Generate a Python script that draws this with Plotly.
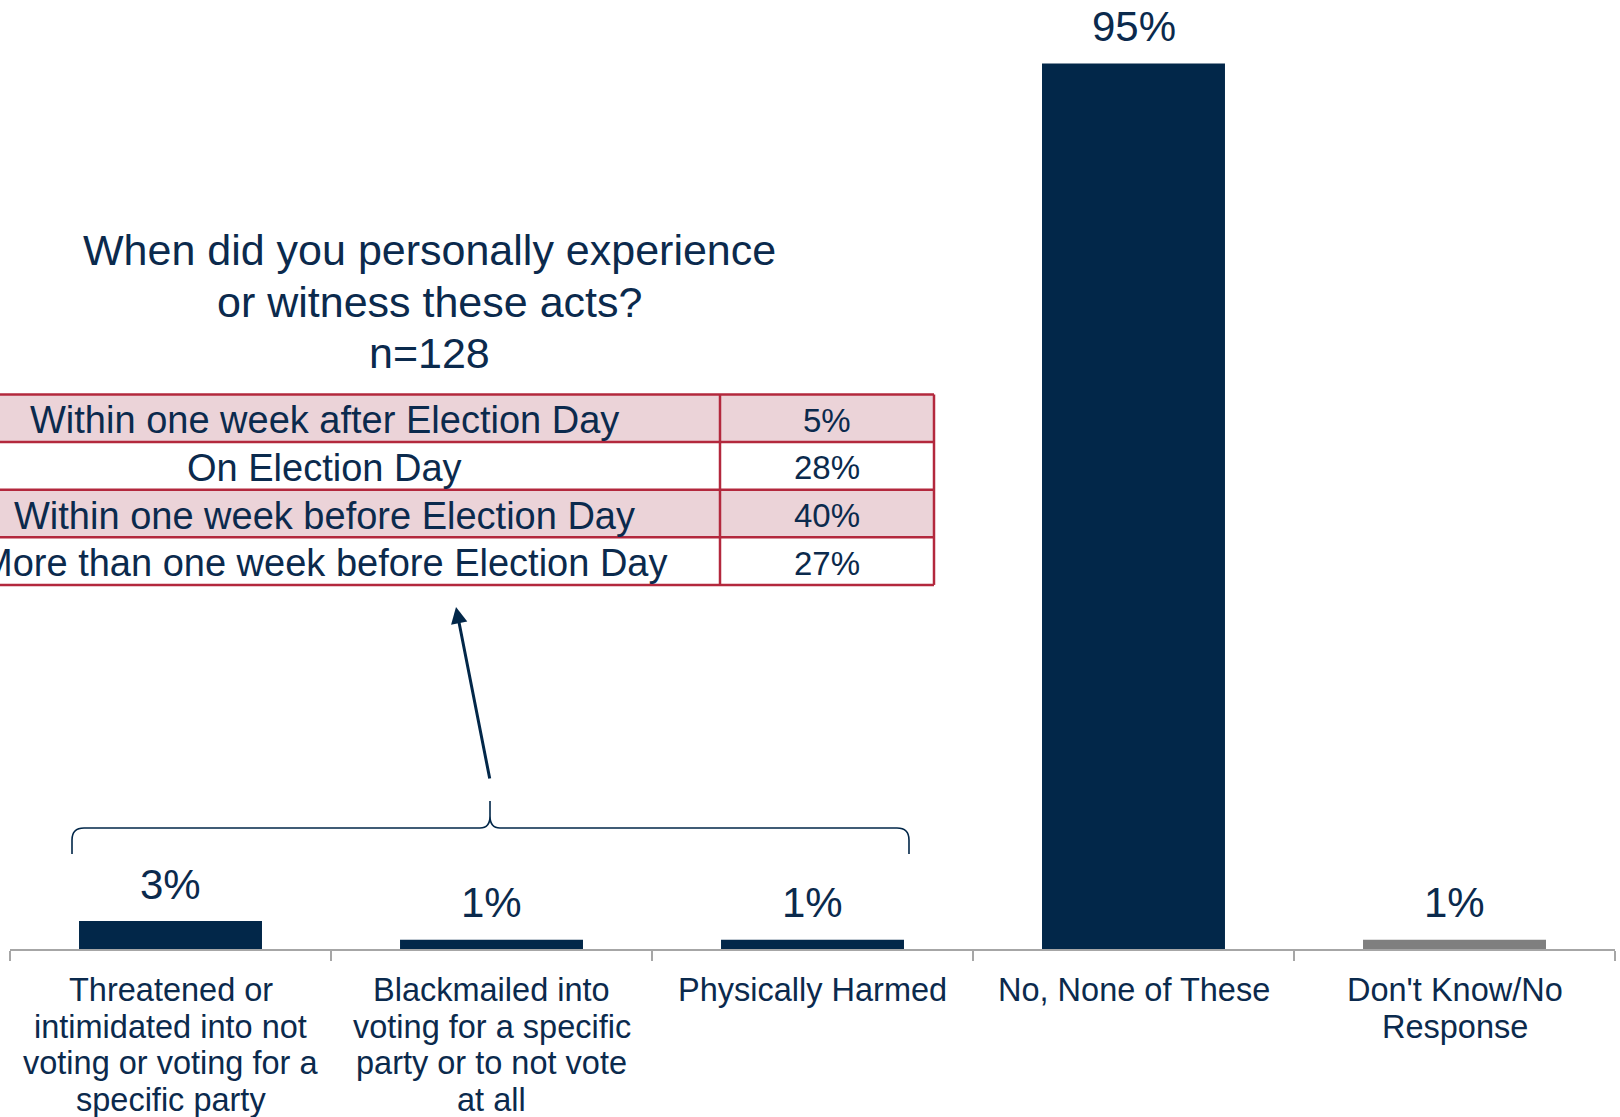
import plotly.graph_objects as go

# ---- data ----
categories = [
    "Threatened or<br>intimidated into not<br>voting or voting for a<br>specific party",
    "Blackmailed into<br>voting for a specific<br>party or to not vote<br>at all",
    "Physically Harmed",
    "No, None of These",
    "Don't Know/No<br>Response",
]
values = [3, 1, 1, 95, 1]
value_labels = ["3%", "1%", "1%", "95%", "1%"]

table_title = ["When did you personally experience", "or witness these acts?", "n=128"]
table_rows = [
    "Within one week after Election Day",
    "On Election Day",
    "Within one week before Election Day",
    "More than one week before Election Day",
]
table_values = ["5%", "28%", "40%", "27%"]

# ---- style ----
NAVY = "#022749"
TEXT = "#0b2a4d"
GRAY_BAR = "#7f7f7f"
AXIS_GRAY = "#a6a6a6"
CRIMSON = "#b3283d"
PINK = "#ebd3d8"
FONT = "Liberation Sans Narrow, Arial Narrow, Liberation Sans, Arial, sans-serif"

OFF = 0  # page body margin (removed by post_script)
W, H = 1620, 1117
L, R, T, B = 10, 5, 0, 168
PW, PH = W - L - R, H - T - B


def px(x):
    """page x pixel -> paper"""
    return (x - OFF - L) / PW


def py(y):
    """page y pixel -> paper"""
    return (H - B - (y - OFF)) / PH


bar_colors = [NAVY, NAVY, NAVY, NAVY, GRAY_BAR]

fig = go.Figure()
fig.add_trace(go.Bar(
    x=categories, y=values, marker=dict(color=bar_colors, line=dict(width=0)),
    width=0.57, hoverinfo="skip",
))

annotations = []
# data labels
for c, v, lab in zip(categories, values, value_labels):
    annotations.append(dict(
        x=c, y=v, xref="x", yref="y", text=lab, showarrow=False,
        yanchor="middle", yshift=37, font=dict(family=FONT, size=42, color=TEXT),
    ))
# category labels (line by line)
for c in categories:
    for k, line in enumerate(c.split("<br>")):
        annotations.append(dict(
            x=c, y=0, xref="x", yref="y", text=line, showarrow=False,
            yanchor="middle", yshift=-(41 + k * 36.5),
            font=dict(family=FONT, size=32.5, color=TEXT),
        ))
# title above table
for k, line in enumerate(table_title):
    annotations.append(dict(
        x=px(429), y=py(250 + k * 51.6), xref="paper", yref="paper", text=line,
        showarrow=False, xanchor="center", yanchor="middle",
        font=dict(family=FONT, size=43, color=TEXT),
    ))

# table geometry
t_top, row_h = 394.5, 47.6
x_left, x_mid, x_right = -90, 720, 934
shapes = []
for i in range(len(table_rows)):
    y0 = t_top + i * row_h
    if i % 2 == 0:
        shapes.append(dict(type="rect", xref="paper", yref="paper",
                           x0=px(x_left), x1=px(x_right), y0=py(y0), y1=py(y0 + row_h),
                           fillcolor=PINK, line=dict(width=0), layer="below"))
    annotations.append(dict(
        x=px(324), y=py(y0 + row_h / 2 + 2), xref="paper", yref="paper",
        text=table_rows[i], showarrow=False, xanchor="center", yanchor="middle",
        font=dict(family=FONT, size=38, color=TEXT),
    ))
    annotations.append(dict(
        x=px(827), y=py(y0 + row_h / 2 + 2), xref="paper", yref="paper",
        text=table_values[i], showarrow=False, xanchor="center", yanchor="middle",
        font=dict(family=FONT, size=33, color=TEXT),
    ))
for i in range(len(table_rows) + 1):
    y = t_top + i * row_h
    shapes.append(dict(type="line", xref="paper", yref="paper",
                       x0=px(x_left), x1=px(x_right), y0=py(y), y1=py(y),
                       line=dict(color=CRIMSON, width=2.5)))
for x in (x_mid, x_right):
    shapes.append(dict(type="line", xref="paper", yref="paper",
                       x0=px(x), x1=px(x), y0=py(t_top), y1=py(t_top + 4 * row_h),
                       line=dict(color=CRIMSON, width=2.5)))


# brace
def P(x, y):
    return f"{px(x):.5f},{py(y):.5f}"


brace = (f"M {P(72,854)} L {P(72,840)} Q {P(72,828)} {P(84,828)} L {P(480,828)} "
         f"Q {P(490,828)} {P(490,816)} L {P(490,801)} "
         f"M {P(490,816)} Q {P(490,828)} {P(500,828)} L {P(897,828)} "
         f"Q {P(909,828)} {P(909,840)} L {P(909,854)}")
shapes.append(dict(type="path", xref="paper", yref="paper", path=brace,
                   line=dict(color=NAVY, width=1.6)))

# arrow
annotations.append(dict(
    x=px(456), y=py(607), xref="paper", yref="paper", text="", showarrow=True,
    ax=34, ay=173, arrowhead=2, arrowsize=1.1, arrowwidth=3, arrowcolor=NAVY, standoff=0,
))

fig.update_layout(
    width=W, height=H, margin=dict(l=L, r=R, t=T, b=B),
    paper_bgcolor="white", plot_bgcolor="white", showlegend=False,
    xaxis=dict(showticklabels=False, showline=True, linecolor=AXIS_GRAY, linewidth=2,
               ticks="outside", tickson="boundaries", ticklen=10, tickwidth=2,
               tickcolor=AXIS_GRAY, showgrid=False, range=[-0.5, 4.5], fixedrange=True),
    yaxis=dict(visible=False, range=[0, 101.8], showgrid=False, zeroline=False),
    annotations=annotations, shapes=shapes,
)

fig.write_html(
    "out.html",
    config={"displayModeBar": False},
    post_script="document.body.style.margin='0';document.body.style.overflow='hidden';",
)
